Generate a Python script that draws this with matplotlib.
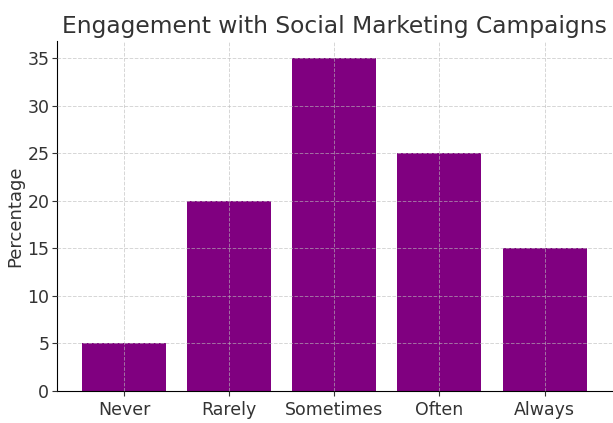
import matplotlib.pyplot as plt

categories = ['Never', 'Rarely', 'Sometimes', 'Often', 'Always']
percentages = [5, 20, 35, 25, 15]

fig = plt.figure(figsize=(6.13, 4.23), dpi=100)
ax = fig.add_axes([0.093, 0.076, 0.905, 0.826])

ax.bar(categories, percentages, color='purple', width=0.8)
# grid lines sit over the bars
ax.set_axisbelow(False)
ax.grid(True, linestyle='--', color='#bbbbbb', alpha=0.6, linewidth=0.7)

ax.set_title('Engagement with Social Marketing Campaigns', fontsize=16.8, color='#333333')
ax.set_ylabel('Percentage', fontsize=13, color='#333333', labelpad=2)
ax.tick_params(labelsize=12.5, colors='#333333')
ax.tick_params(axis='y', pad=2)
ax.spines['top'].set_visible(False)
ax.spines['right'].set_visible(False)

fig.savefig('out.png', dpi=100)
